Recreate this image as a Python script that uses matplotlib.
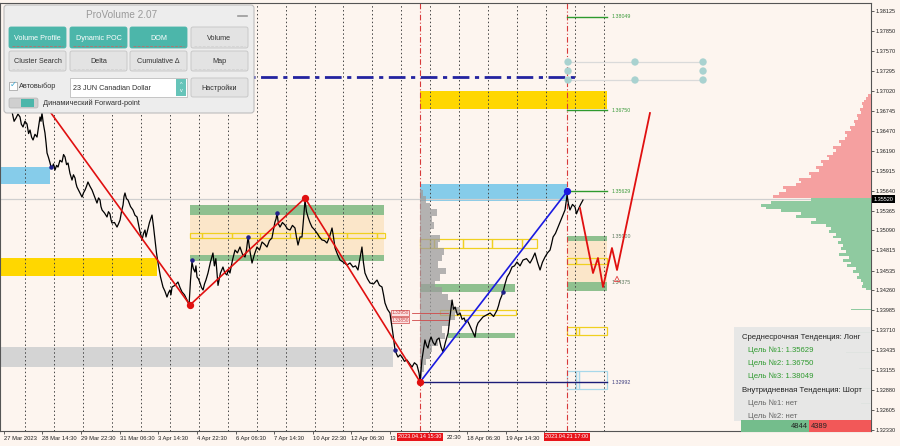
import matplotlib
matplotlib.use('Agg')
import matplotlib.pyplot as plt
import matplotlib.transforms as mtransforms
from matplotlib.patches import Rectangle, FancyBboxPatch

plt.rcParams['font.family'] = ['Liberation Sans', 'DejaVu Sans']

# ---------------- data (time = trading hours since 27 Mar 2023 00:00) ----------------
price_t = [13.3, 15.0, 16.6, 18.2, 19.9, 21.0, 22.4, 24.0, 25.7, 27.0,
           28.2, 29.5, 30.7, 32.3, 34.0, 35.2, 36.5, 37.3, 38.1, 39.3,
           40.6, 41.5, 42.3, 43.5, 44.8, 45.6, 46.4, 47.6, 48.9, 50.2,
           51.4, 53.0, 54.7, 56.0, 57.2, 58.5, 59.7, 61.3, 63.0, 64.2,
           65.5, 66.3, 67.1, 69.2, 71.3, 72.5, 73.8, 75.0, 76.2, 77.9,
           79.6, 81.6, 83.7, 85.0, 86.2, 87.0, 87.9, 90.0, 92.0, 93.2,
           94.5, 95.3, 96.1, 98.2, 100.3, 101.5, 102.8, 104.0, 105.3, 106.1,
           106.9, 108.1, 109.4, 111.5, 113.5, 115.2, 116.9, 119.0, 121.0, 122.3,
           123.5, 124.3, 125.1, 127.2, 129.3, 130.5, 131.8, 133.0, 134.3, 136.3,
           138.4, 140.0, 141.7, 143.0, 144.2, 145.0, 145.9, 148.3, 150.8, 152.5,
           154.2, 156.2, 158.3, 160.0, 161.2, 162.4, 163.6, 164.9, 165.7, 166.6,
           167.8, 169.1, 170.3, 171.6, 172.8, 174.0, 175.7, 177.7, 179.8, 181.0,
           182.2, 184.0, 186.0, 188.1, 189.7, 191.4, 192.6, 193.9, 196.0, 198.1,
           200.1, 202.2, 204.3, 206.4, 207.6, 208.9, 210.5, 212.2, 214.2, 216.3,
           218.4, 220.5, 222.5, 224.6, 226.6, 228.7, 230.0, 231.2, 232.1, 232.9,
           234.1, 235.4, 237.4, 239.5, 241.6, 243.7, 245.7, 247.8, 249.0, 250.3,
           252.0, 253.6, 254.9, 256.1, 257.3, 258.6, 260.2, 261.9, 264.0, 266.0,
           268.1, 270.2, 272.2, 274.3, 276.4, 278.5, 279.7, 281.0, 283.0, 285.1,
           288.0, 290.9, 293.4, 295.9, 298.0, 300.0, 301.6, 303.3, 304.5, 305.8,
           307.9, 310.0, 312.9, 315.8, 317.8, 319.9, 321.2, 322.4, 324.4, 326.5,
           327.3, 328.2, 329.5, 330.7, 332.0, 333.2, 335.0, 336.5, 338.5, 340.6,
           342.7, 344.8, 346.8, 348.9, 350.6, 351.5, 353.0, 355.5, 356.8, 358.0,
           359.3, 360.6, 362.3, 363.9, 365.5, 367.2, 368.8, 370.5, 372.6, 374.7,
           376.3, 378.0, 379.2, 380.5, 382.5, 384.6, 386.3, 388.0, 389.2, 390.4,
           392.0, 393.7, 395.3, 397.0, 398.2, 399.5, 401.5, 403.6, 406.5, 409.5,
           412.4, 415.3, 416.5, 417.7, 419.0, 420.2, 421.9, 423.6, 425.6, 427.7,
           429.7, 431.8, 434.3, 436.8, 439.7, 442.6, 444.6, 446.7, 448.8, 450.9,
           452.9, 455.0, 457.1, 459.2, 460.4, 461.7, 463.7, 465.8, 467.4, 469.1,
           470.3, 471.6, 472.5, 473.3, 474.5, 475.7, 477.8, 479.9, 481.1, 482.4,
           484.5, 486.5]
price_p = [1.36728, 1.36600, 1.36645, 1.36700, 1.36659, 1.36560, 1.36521, 1.36600, 1.36562, 1.36430,
           1.36479, 1.36380, 1.36341, 1.36420, 1.36382, 1.36520, 1.36659, 1.36600, 1.36714, 1.36560,
           1.36438, 1.36300, 1.36161, 1.36100, 1.36023, 1.35967, 1.35953, 1.36010, 1.35926, 1.35990,
           1.35967, 1.36060, 1.36036, 1.36140, 1.36106, 1.36000, 1.36023, 1.35880, 1.35787, 1.35860,
           1.35815, 1.35740, 1.35691, 1.35620, 1.35552, 1.35610, 1.35649, 1.35700, 1.35760, 1.35700,
           1.35649, 1.35560, 1.35469, 1.35540, 1.35511, 1.35420, 1.35373, 1.35330, 1.35276, 1.35350,
           1.35317, 1.35240, 1.35193, 1.35200, 1.35137, 1.35180, 1.35234, 1.35350, 1.35442, 1.35560,
           1.35608, 1.35530, 1.35511, 1.35420, 1.35373, 1.35300, 1.35276, 1.35100, 1.34958, 1.35050,
           1.35096, 1.35000, 1.35054, 1.35200, 1.35303, 1.35150, 1.34958, 1.34780, 1.34639, 1.34450,
           1.34308, 1.34250, 1.34169, 1.34230, 1.34266, 1.34200, 1.34308, 1.34330, 1.34377, 1.34300,
           1.34238, 1.34200, 1.34128, 1.34059, 1.34400, 1.34653, 1.34560, 1.34515, 1.34600, 1.34446,
           1.34420, 1.34363, 1.34300, 1.34266, 1.34350, 1.34404, 1.34501, 1.34650, 1.34778, 1.34600,
           1.34700, 1.34330, 1.34500, 1.34584, 1.34500, 1.34474, 1.34550, 1.34501, 1.34680, 1.34819,
           1.34780, 1.34861, 1.34760, 1.34722, 1.34820, 1.34999, 1.34800, 1.34639, 1.34760, 1.34861,
           1.34820, 1.34930, 1.34900, 1.34861, 1.34950, 1.34985, 1.35100, 1.35207, 1.35250, 1.35331,
           1.35180, 1.35137, 1.35200, 1.35165, 1.35110, 1.35096, 1.35160, 1.35124, 1.35000, 1.34888,
           1.35000, 1.34999, 1.35250, 1.35511, 1.35350, 1.35276, 1.35200, 1.35137, 1.35100, 1.35054,
           1.35000, 1.34958, 1.34950, 1.34916, 1.35000, 1.35124, 1.35000, 1.34847, 1.34760, 1.34681,
           1.34650, 1.34612, 1.34640, 1.34584, 1.34600, 1.34543, 1.34700, 1.34861, 1.34650, 1.34501,
           1.34420, 1.34363, 1.34350, 1.34404, 1.34330, 1.34308, 1.34200, 1.34086, 1.34000, 1.33948,
           1.33850, 1.33754, 1.33600, 1.33436, 1.33380, 1.33339, 1.33370, 1.33339, 1.33280, 1.33298,
           1.33250, 1.33201, 1.33260, 1.33229, 1.33118, 1.33007, 1.33300, 1.33575, 1.33500, 1.33464,
           1.33560, 1.33616, 1.33540, 1.33505, 1.33580, 1.33602, 1.33480, 1.33409, 1.33550, 1.33671,
           1.33900, 1.34128, 1.34000, 1.34031, 1.33920, 1.33948, 1.33860, 1.33879, 1.33820, 1.33851,
           1.33800, 1.33740, 1.33680, 1.33616, 1.33750, 1.33810, 1.33850, 1.33893, 1.33920, 1.33948,
           1.33900, 1.33989, 1.34050, 1.34128, 1.34180, 1.34238, 1.34350, 1.34446, 1.34500, 1.34584,
           1.34600, 1.34653, 1.34600, 1.34681, 1.34700, 1.34639, 1.34700, 1.34778, 1.34650, 1.34543,
           1.34650, 1.34722, 1.34780, 1.34819, 1.34900, 1.34999, 1.35050, 1.35137, 1.35200, 1.35276,
           1.35320, 1.35373, 1.35480, 1.35580, 1.35450, 1.35373, 1.35450, 1.35414, 1.35320, 1.35373,
           1.35450, 1.35511]

zigzag_t = [34.8, 160.8, 256.1, 351.5]
zigzag_p = [1.36963, 1.34059, 1.35538, 1.32994]
trend_t = [351.5, 473.3]
trend_p = [1.32994, 1.35629]
forecast_t = [484.0, 494.8, 498.9, 503.1, 510.5, 514.7, 542.0]
forecast_p = [1.35400, 1.34501, 1.34709, 1.34308, 1.34847, 1.34543, 1.36714]
swing_t = [45.6, 162.4, 208.9, 232.9, 330.7, 420.2]
swing_p = [1.35967, 1.34681, 1.34999, 1.35331, 1.33436, 1.34238]

current_price = 1.35520
y_ticks = [1.38125, 1.37850, 1.37570, 1.37295, 1.37020, 1.36745, 1.36470, 1.36190, 1.35915, 1.35640,
           1.35365, 1.35090, 1.34815, 1.34535, 1.34260, 1.33985, 1.33710, 1.33435, 1.33155, 1.32880,
           1.32605, 1.32330]
x_ticks = [6.5, 38.5, 70.5, 102.5, 134.5, 166.5, 198.5, 230.5, 262.5, 294.5, 326.5, 358.5, 390.5,
           422.5, 454.5]
# labels partly hidden behind the red time markers are shortened to their visible part
x_labels = ['27 Mar 2023', '28 Mar 14:30', '29 Mar 22:30', '31 Mar 06:30', '3 Apr 14:30',
            '4 Apr 22:30', '6 Apr 06:30', '7 Apr 14:30', '10 Apr 22:30', '12 Apr 06:30',
            '13', '', '18 Apr 06:30', '19 Apr 14:30', '']
hidden_label_t = 373.8
hidden_label = '22:30'
day_lines = [24 * k for k in range(1, 22)]
marker_times = [351.5, 473.0]
marker_labels = ['2023.04.14 15:30', '2023.04.21 17:00']

# filled zones: (t0, t1, p_low, p_high, colour)
zones = [
    (0, 44.8, 1.35732, 1.35967, '#86ccea'),
    (0, 133.4, 1.34460, 1.34709, '#ffd700'),
    (0, 329.0, 1.33201, 1.33478, '#d4d4d4'),
    (160.8, 321.6, 1.34750, 1.35303, '#fbe6c9'),
    (160.8, 321.6, 1.35303, 1.35442, '#8fc08f'),
    (160.8, 321.6, 1.34667, 1.34750, '#8fc08f'),
    (351.5, 473.3, 1.35497, 1.35732, '#86ccea'),
    (351.5, 506.4, 1.36769, 1.37018, '#ffd700'),
    (351.5, 430.1, 1.34238, 1.34349, '#8fc08f'),
    (374.7, 430.1, 1.33602, 1.33671, '#8fc08f'),
    (473.3, 506.4, 1.34377, 1.34944, '#fbe6c9'),
    (473.3, 506.4, 1.34944, 1.35013, '#8fc08f'),
    (473.3, 506.4, 1.34252, 1.34377, '#8fc08f'),
]
# outlined boxes: (edges in time, p_low, p_high, colour)
outline_rows = [
    ([160.8, 170.5, 195.3, 218.8, 243.7, 266.8, 290.6, 315.4, 322.4], 1.34985, 1.35054, '#f0d020'),
    ([351.5, 359.8, 363.1, 387.1, 411.1, 435.9, 448.4], 1.34847, 1.34971, '#f0d020'),
    ([368.0, 431.0], 1.33920, 1.33989, '#f0d020'),
    ([473.3, 480.7, 506.4], 1.34626, 1.34709, '#f0d020'),
    ([473.3, 480.7, 483.2, 506.4], 1.33643, 1.33754, '#f0d020'),
    ([473.3, 480.7, 483.2, 506.4], 1.32897, 1.33146, '#a8d8ea'),
]
target_levels = [1.38049, 1.36750, 1.35629]
level_labels_grey = [1.35000, 1.34375]
support_level = 1.32992
dashdot_level = 1.37219
dot_times = [474.1, 474.1, 474.1, 529.6, 529.6, 586.0, 586.0, 586.0]
dot_prices = [1.37420, 1.37295, 1.37171, 1.37420, 1.37171, 1.37420, 1.37295, 1.37171]
red_levels = [1.33950, 1.33850]

# session volume profile (grey) from 14 Apr 15:30
gp_prices = [1.3561, 1.3552, 1.3543, 1.3534, 1.3525, 1.3516, 1.3507, 1.3498, 1.3489, 1.3480,
             1.3471, 1.3462, 1.3453, 1.3444, 1.3435, 1.3426, 1.3417, 1.3408, 1.3399, 1.3390,
             1.3381, 1.3372, 1.3363, 1.3354, 1.3345, 1.3336, 1.3327, 1.3318, 1.3309, 1.3300]
gp_vol = [3, 6, 10, 17, 12, 14, 10, 20, 18, 24, 22, 18, 26, 20, 15, 22, 28, 32, 40, 35,
          30, 22, 25, 18, 12, 10, 6, 4, 2, 1]

# right-side profile: sells (pink) above price, buys (green) below
pink_prices = [1.3556 + 0.0004 * i for i in range(36)]
pink_vol = [98, 92, 85, 88, 75, 70, 72, 60, 62, 52, 55, 48, 50, 42, 44, 38, 35, 38, 30, 32,
            26, 24, 26, 20, 21, 16, 17, 13, 14, 10, 11, 8, 9, 7, 5, 3]
green_prices = [1.3552 - 0.0004 * i for i in range(32)]
green_vol = [60, 100, 110, 105, 90, 70, 75, 55, 60, 45, 40, 42, 35, 38, 30, 33, 28, 30, 25, 32,
             22, 28, 20, 24, 15, 18, 12, 14, 10, 8, 9, 5]
sparse_pink_p = [1.3803, 1.3763, 1.3742, 1.3728, 1.3706]
sparse_pink_v = [10, 12, 18, 10, 6]
sparse_green_p = [1.3400, 1.3368, 1.3340, 1.3318, 1.3290, 1.3270]
sparse_green_v = [20, 15, 25, 12, 18, 10]

buy_total, sell_total = 4844, 4389

# ---------------- figure ----------------
BG = '#fdf5ef'
fig = plt.figure(figsize=(9, 4.46), dpi=100, facecolor=BG)
ax = fig.add_axes([0, 15 / 446, 871 / 900, 428 / 446], facecolor=BG)
ax.set_xlim(3.315, 725.2)
ax.set_ylim(1.32316, 1.38236)

for t0, t1, pl, ph, c in zones:
    ax.add_patch(Rectangle((t0, pl), t1 - t0, ph - pl, facecolor=c, edgecolor='none', zorder=1))
for edges, pl, ph, c in outline_rows:
    for a, b in zip(edges[:-1], edges[1:]):
        ax.add_patch(Rectangle((a, pl), b - a, ph - pl, facecolor='none', edgecolor=c,
                               lw=0.9, zorder=1.6))

ax.axhline(current_price, color='#cfcfcf', lw=0.9, zorder=1.4)
for d in day_lines:
    ax.axvline(d, color='#444444', lw=0.7, ls=(0, (1.5, 2.5)), zorder=2)
for t in marker_times:
    ax.axvline(t, color='#d83a3a', lw=0.8, ls=(0, (5, 2, 1, 2)), zorder=2.1)

# grey session profile
ax.barh(gp_prices, [v * 0.83 for v in gp_vol], left=351.5, height=0.0009, color='#9c9c9c',
        alpha=0.75, edgecolor='none', zorder=2.5)

# levels
for lv in target_levels:
    ax.plot([473.3, 506.4], [lv, lv], color='#2e9a2e', lw=1.0, zorder=3)
    ax.text(510.5, lv, f'{lv:.5f}', fontsize=3.8, color='#3c9a3c', va='center', ha='left', zorder=3)
for lv in level_labels_grey:
    ax.text(510.5, lv, f'{lv:.5f}', fontsize=3.8, color='#5f7a5f', va='center', ha='left', zorder=3)
ax.plot([351.5, 506.4], [support_level, support_level], color='#1c1c78', lw=1.0, zorder=3)
ax.text(510.5, support_level, f'{support_level:.5f}', fontsize=3.8, color='#404080', va='center',
        ha='left', zorder=3)
ax.plot([7.5, 484.0], [dashdot_level, dashdot_level], color='#2323a0', lw=2.0,
        ls=(0, (6, 2, 1.5, 2)), zorder=3)
ax.plot([474.1, 586.0], [1.37420, 1.37420], color='#dadada', lw=0.9, zorder=3)
ax.plot([474.1, 586.0], [1.37171, 1.37171], color='#dadada', lw=0.9, zorder=3)
ax.scatter(dot_times, dot_prices, s=28, color='#a9d2d0', edgecolor='none', zorder=3.2)
for lv in red_levels:
    ax.plot([345.0, 375.0], [lv, lv], color='#d04848', lw=0.6, zorder=2.6)
    ax.text(334.8, lv, f'{lv:.5f}', fontsize=3.4, color='#d04848', va='center', ha='center',
            zorder=3.5, bbox=dict(boxstyle='square,pad=0.15', fc='#fbe0e0', ec='#d04848', lw=0.5))

# price and zigzags
ax.plot(price_t, price_p, color='black', lw=0.9, zorder=4)
ax.plot(zigzag_t, zigzag_p, color='#e01010', lw=1.2, zorder=4.5)
ax.scatter(zigzag_t[1:], zigzag_p[1:], s=18, color='#e01010', zorder=4.6)
ax.plot(trend_t, trend_p, color='#1a1ae0', lw=1.2, zorder=4.5)
ax.scatter(trend_t[1:], trend_p[1:], s=18, color='#1a1ae0', zorder=4.6)
ax.plot(forecast_t, forecast_p, color='#e01010', lw=1.3, zorder=4.5)
ax.scatter([514.7], [1.34420], marker='^', s=14, facecolor='none', edgecolor='#e04040', lw=0.6,
           zorder=4.6)
ax.scatter(swing_t, swing_p, s=5, color='#20208a', zorder=4.7)

# axes styling
ax.yaxis.tick_right()
ax.set_yticks(y_ticks)
ax.set_yticklabels([f'{v:.5f}' for v in y_ticks])
ax.set_xticks(x_ticks)
ax.set_xticklabels(x_labels, ha='left')
ax.tick_params(axis='y', labelsize=4, length=2, width=0.5, pad=1.5, colors='#222222')
ax.tick_params(axis='x', labelsize=4.2, length=2, width=0.5, pad=1.5, colors='#222222')
for s in ax.spines.values():
    s.set_color('#555555')
    s.set_linewidth(0.8)

bt = mtransforms.blended_transform_factory(ax.transData, ax.transAxes)
ax.text(hidden_label_t, -0.0105, hidden_label, transform=bt, fontsize=4.2, color='#222222',
        ha='left', va='top', clip_on=False)
for t, lab in zip(marker_times, marker_labels):
    ax.text(t, -0.008, lab, transform=bt, fontsize=4, color='white', ha='center', va='top',
            zorder=10, clip_on=False,
            bbox=dict(boxstyle='square,pad=0.25', fc='#e8141a', ec='none'))
bt2 = mtransforms.blended_transform_factory(ax.transAxes, ax.transData)
ax.text(1.003, current_price, f'{current_price:.5f}', transform=bt2, fontsize=4, color='white',
        ha='left', va='center', zorder=10, clip_on=False,
        bbox=dict(boxstyle='square,pad=0.25', fc='black', ec='none'))

# right volume profile (twin x axis growing leftwards from the price axis)
vp = ax.twiny()
vp.set_xlim(871, 0)
vp.set_xticks([])
for s in vp.spines.values():
    s.set_visible(False)
vp.barh(pink_prices, pink_vol, height=0.0004, left=0, color='#f5a0a0', edgecolor='none')
vp.barh(green_prices, green_vol, height=0.0004, left=0, color='#8fcaa0', edgecolor='none')
vp.barh(sparse_pink_p, sparse_pink_v, height=0.00008, left=0, color='#f5a0a0', edgecolor='none')
vp.barh(sparse_green_p, sparse_green_v, height=0.00008, left=0, color='#8fcaa0', edgecolor='none')

# ---------------- UI overlays (pixel coordinates) ----------------
ui = fig.add_axes([0, 0, 1, 1])
ui.set_xlim(0, 900)
ui.set_ylim(446, 0)
ui.axis('off')
ui.set_zorder(20)

ui.add_patch(FancyBboxPatch((4, 5), 250, 108, boxstyle='round,pad=0,rounding_size=3',
                            fc='#ededed', ec='#bdbdbd', lw=0.8))
ui.text(122, 14.5, 'ProVolume 2.07', fontsize=7.2, color='#9a9a9a', ha='center', va='center')
ui.plot([238, 247], [16, 16], color='#9a9a9a', lw=1.2)
TEAL = '#4cb6aa'
buttons = [
    (9, 66, 27, 48, 'Volume Profile', True), (70, 127, 27, 48, 'Dynamic POC', True),
    (130, 187, 27, 48, 'DOM', True), (191, 248, 27, 48, 'Volume', False),
    (9, 66, 51, 71, 'Cluster Search', False), (70, 127, 51, 71, 'Delta', False),
    (130, 187, 51, 71, 'Cumulative Δ', False), (191, 248, 51, 71, 'Map', False),
    (191, 248, 78, 97, 'Настройки', False),
]
for x0, x1, y0, y1, lab, teal in buttons:
    ui.add_patch(FancyBboxPatch((x0, y0), x1 - x0, y1 - y0, boxstyle='round,pad=0,rounding_size=2',
                                fc=TEAL if teal else '#e3e3e3', ec='#c4c4c4' if not teal else TEAL,
                                lw=0.6))
    ui.text((x0 + x1) / 2, (y0 + y1) / 2 + 0.5, lab, fontsize=5.2,
            color='white' if teal else '#333333', ha='center', va='center')
    if y1 <= 71:
        ui.plot([x0 + 3, x1 - 3], [y1 - 2.5, y1 - 2.5], color='#d06060' if teal else '#d0d0d0',
                lw=0.5, ls=(0, (4, 2)))
ui.add_patch(Rectangle((9, 82), 8, 8, fc='white', ec='#9a9a9a', lw=0.5))
ui.text(13, 85.5, '✓', fontsize=6, color='#3aa6d0', ha='center', va='center')
ui.text(19, 86.5, 'Автовыбор', fontsize=5.3, color='#333333', ha='left', va='center')
ui.add_patch(Rectangle((70, 78), 117, 19, fc='white', ec='#bdbdbd', lw=0.6))
ui.text(73, 88, '23 JUN Canadian Dollar', fontsize=5.2, color='#333333', ha='left', va='center')
ui.add_patch(Rectangle((176, 79), 10, 17, fc='#66c4b9', ec='none'))
ui.text(181, 84.5, '^', fontsize=4, color='white', ha='center', va='center')
ui.text(181, 91, 'v', fontsize=4, color='white', ha='center', va='center')
ui.add_patch(FancyBboxPatch((9, 98), 29, 10, boxstyle='round,pad=0,rounding_size=2',
                            fc='#cfcfcf', ec='#b5b5b5', lw=0.5))
ui.add_patch(Rectangle((21, 99), 13, 8, fc=TEAL, ec='none'))
ui.text(43, 103.5, 'Динамический Forward-point', fontsize=5.3, color='#333333', ha='left',
        va='center')

# trend info box
ui.add_patch(Rectangle((734, 327), 137, 94, fc='#e6e6e6', ec='none', alpha=0.93))
info = [
    (742, 337.5, 'Среднесрочная Тенденция: Лонг', '#222222'),
    (748, 350.5, f'Цель №1: {target_levels[2]:.5f}', '#2f9a2f'),
    (748, 363.5, f'Цель №2: {target_levels[1]:.5f}', '#2f9a2f'),
    (748, 376.5, f'Цель №3: {target_levels[0]:.5f}', '#2f9a2f'),
    (742, 391, 'Внутридневная Тенденция: Шорт', '#222222'),
    (748, 403.5, 'Цель №1: нет', '#666666'),
    (748, 416, 'Цель №2: нет', '#666666'),
]
for x, y, s, c in info:
    ui.text(x, y, s, fontsize=5.6, color=c, ha='left', va='center')
total = buy_total + sell_total
split = 741 + 130 * buy_total / total
ui.add_patch(Rectangle((741, 420), split - 741, 12, fc='#74bd8c', ec='none'))
ui.add_patch(Rectangle((split, 420), 871 - split, 12, fc='#f25858', ec='none'))
ui.text(split - 1.5, 426, str(buy_total), fontsize=5.4, color='#222222', ha='right', va='center')
ui.text(split + 1.5, 426, str(sell_total), fontsize=5.4, color='#222222', ha='left', va='center')

fig.savefig('out.png', dpi=100, facecolor=BG)
